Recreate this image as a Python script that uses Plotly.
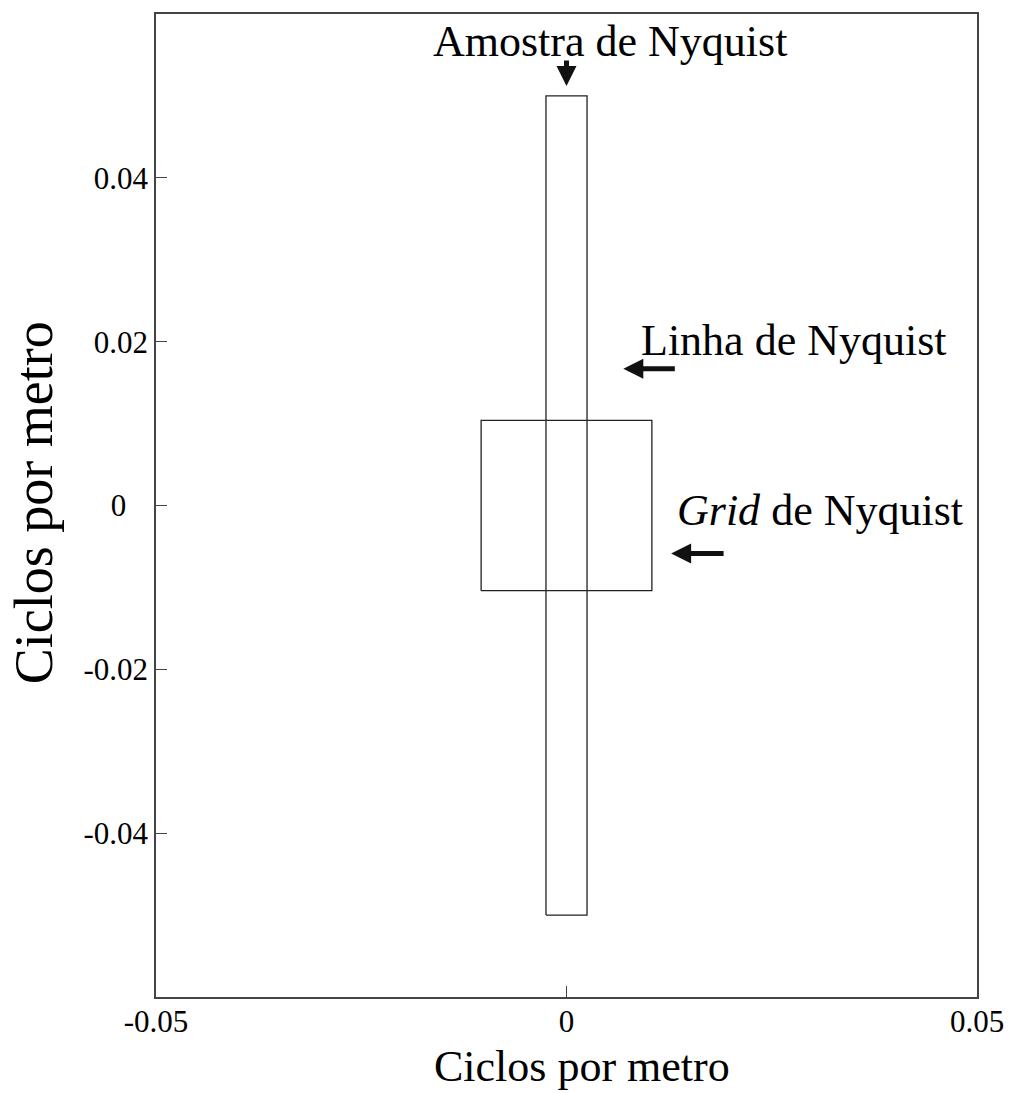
import plotly.graph_objects as go

# Nyquist limits in cycles per metre
sample_nyquist = 0.05      # along-line sample Nyquist (vertical extent of strip)
line_nyquist = 0.0025      # across-line Nyquist (half width of strip)
grid_nyquist = 0.0104      # grid Nyquist (half side of square)

x_ticks = [-0.05, 0, 0.05]
x_tick_labels = ["-0.05", "0", "0.05"]
y_ticks = [0.04, 0.02, 0, -0.02, -0.04]
y_tick_labels = ["0.04", "0.02", "0\u00a0\u00a0\u2009", "-0.02", "-0.04"]

SERIF = "Liberation Serif, Times New Roman, serif"
LINE = "#222222"
AXIS = "#444444"


def box(hx, hy):
    xs = [-hx, hx, hx, -hx, -hx]
    ys = [-hy, -hy, hy, hy, -hy]
    return xs, ys


fig = go.Figure()

sx, sy = box(line_nyquist, sample_nyquist)
fig.add_trace(go.Scatter(x=sx, y=sy, mode="lines",
                         line=dict(color=LINE, width=1.3), hoverinfo="skip"))
gx, gy = box(grid_nyquist, grid_nyquist)
fig.add_trace(go.Scatter(x=gx, y=gy, mode="lines",
                         line=dict(color=LINE, width=1.3), hoverinfo="skip"))

# labels and their arrows
labels = [
    dict(text="Amostra de Nyquist", x=0.00534, y=0.0566),
    dict(text="Linha de Nyquist", x=0.02773, y=0.0201),
    dict(text="<i>Grid</i> de Nyquist", x=0.03083, y=-0.00067),
]
for lab in labels:
    fig.add_annotation(x=lab["x"], y=lab["y"], xref="x", yref="y",
                       text=lab["text"], showarrow=False,
                       xanchor="center", yanchor="middle",
                       font=dict(family=SERIF, size=44, color="black"))

arrows = [
    dict(x=0.0, y=0.0512, ax=0, ay=-27),
    dict(x=0.00692, y=0.0167, ax=53, ay=0),
    dict(x=0.01274, y=-0.00585, ax=54, ay=0),
]
for a in arrows:
    fig.add_annotation(x=a["x"], y=a["y"], xref="x", yref="y", text="",
                       showarrow=True, ax=a["ax"], ay=a["ay"],
                       arrowhead=2, arrowsize=0.8, arrowwidth=5,
                       arrowcolor="#111111")

# axis titles
fig.add_annotation(x=0.519, y=-0.071, xref="paper", yref="paper",
                   text="Ciclos por metro", showarrow=False,
                   xanchor="center", yanchor="middle",
                   font=dict(family=SERIF, size=44, color="black"))
fig.add_annotation(x=-0.149, y=0.503, xref="paper", yref="paper",
                   text="Ciclos por metro", showarrow=False, textangle=-90,
                   xanchor="center", yanchor="middle",
                   font=dict(family=SERIF, size=54, color="black"))

axis_common = dict(showline=True, mirror=True, linecolor=AXIS, linewidth=1.5,
                   ticks="inside", ticklen=11, tickcolor=AXIS, tickwidth=1.2,
                   showgrid=False, zeroline=False,
                   tickfont=dict(family=SERIF, size=31, color="black"))

fig.update_layout(
    width=1016, height=1093,
    margin=dict(l=156, r=36, t=13, b=96),
    paper_bgcolor="white", plot_bgcolor="white",
    showlegend=False,
    xaxis=dict(range=[-0.05, 0.05], tickvals=x_ticks,
               ticktext=x_tick_labels, ticklabelstandoff=-4, **axis_common),
    yaxis=dict(range=[-0.06, 0.06], tickvals=y_ticks,
               ticktext=y_tick_labels, **axis_common),
)

fig.write_html("out.html")
